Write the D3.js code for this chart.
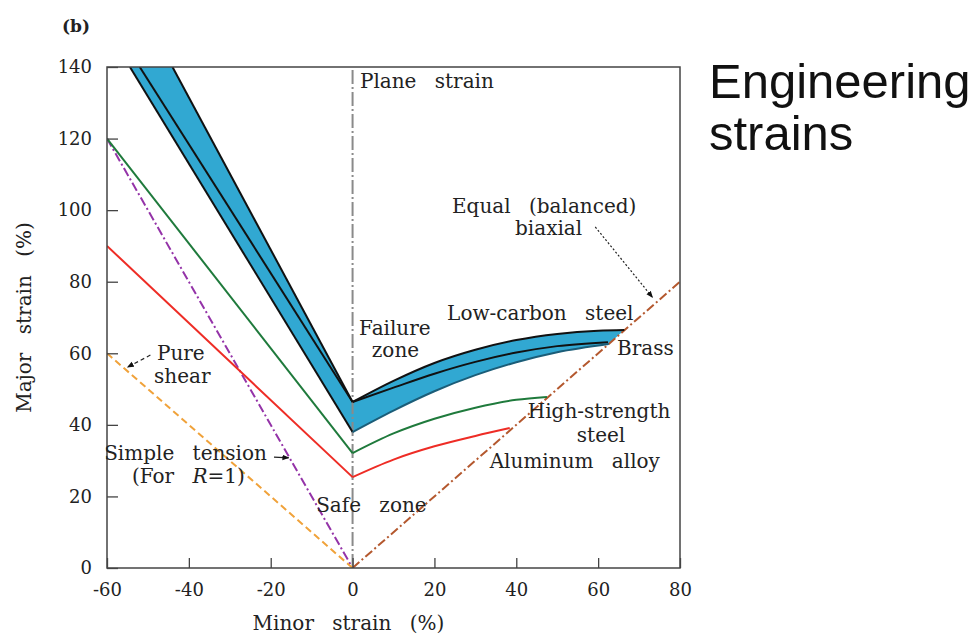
<!DOCTYPE html>
<meta charset="utf-8">
<style>
body { margin: 0; background: #fff; }
svg text { font-family: "DejaVu Serif", serif; fill: #222; }
.axis path { display: none; }
.axis line { stroke: #444; stroke-width: 1.3; }
.axis text { font-size: 18px; font-family: "DejaVu Serif", serif; fill: #222; }
.note { font-size: 20px; word-spacing: 12px; }
.curve { fill: none; stroke-width: 2; }
</style>
<body>
<script src="https://d3js.org/d3.v7.min.js"></script>
<script>

// values: [minor strain %, major strain %]
var xTicks = [-60, -40, -20, 0, 20, 40, 60, 80];
var yTicks = [0, 20, 40, 60, 80, 100, 120, 140];

var simpleTension = [[-60, 120], [0, 0]];
var pureShear = [[-60, 60], [0, 0]];
var equalBiaxial = [[0, 0], [80, 80]];
var planeStrain = [[0, 0], [0, 140]];

var highStrengthLeft = [[-60, 120], [0, 32.1]];
var highStrengthRight = [[0, 32.1], [10, 37.6], [20, 41.7], [30, 44.8], [40, 47], [47.5, 47.8]];
var aluminumLeft = [[-60, 90], [0, 25.4]];
var aluminumRight = [[0, 25.4], [10, 30.3], [20, 34], [30, 36.9], [38.4, 39.1]];

// failure band: low-carbon steel (upper), brass (middle), lower edge
var steelLeft = [[-44, 140], [0, 46.4]];
var steelRight = [[0, 46.4], [10, 52.3], [20, 57.3], [30, 61], [40, 63.7], [50, 65.4], [60, 66.3], [66.4, 66.5]];
var brassLeft = [[-52, 140], [0, 46.4]];
var brassRight = [[0, 46.4], [10, 50.4], [20, 54.3], [30, 57.6], [40, 60.2], [50, 62], [62.4, 63.1]];
var lowerLeft = [[-54.4, 140], [0, 38]];
var lowerRight = [[0, 38], [10, 44], [20, 49.4], [30, 53.9], [40, 57.5], [50, 60.3], [62.6, 62.6]];

var labels = [
  {t: "Plane strain", x: 1.8, y: 134.1},
  {t: "Equal (balanced)", x: 24.3, y: 99.2},
  {t: "biaxial", x: 39.7, y: 93.0},
  {t: "Failure", x: 1.6, y: 65.1},
  {t: "zone", x: 4.7, y: 58.9},
  {t: "Low-carbon steel", x: 23.1, y: 69.3},
  {t: "Brass", x: 64.6, y: 59.5},
  {t: "High-strength", x: 42.8, y: 41.9},
  {t: "steel", x: 54.8, y: 35.2},
  {t: "Aluminum alloy", x: 33.5, y: 27.9},
  {t: "Safe zone", x: -8.9, y: 15.6},
  {t: "Pure", x: -47.8, y: 58.1},
  {t: "shear", x: -48.5, y: 51.7},
  {t: "Simple tension", x: -60.7, y: 30.2}
];

var arrows = [
  {from: [-49.4, 59.5], to: [-55, 56.1], dash: "4,3"},
  {from: [-19.2, 31], to: [-15.6, 30.8], dash: null},
  {from: [59.3, 95.3], to: [73.3, 75.6], dash: "2,2"}
];

var margin = {top: 67, right: 296, bottom: 69, left: 107},
    width = 976 - margin.left - margin.right,
    height = 637 - margin.top - margin.bottom;

var x = d3.scaleLinear().domain([-60, 80]).range([0, width]);
var y = d3.scaleLinear().domain([0, 140]).range([height, 0]);

var svg = d3.select("body").append("svg")
    .attr("width", 976)
    .attr("height", 637);

svg.append("defs").append("marker")
    .attr("id", "head")
    .attr("viewBox", "0 0 10 10")
    .attr("refX", 9).attr("refY", 5)
    .attr("markerWidth", 7).attr("markerHeight", 7)
    .attr("markerUnits", "userSpaceOnUse")
    .attr("orient", "auto")
  .append("path")
    .attr("d", "M0,1L10,5L0,9z")
    .attr("fill", "#111");

svg.select("defs").append("clipPath")
    .attr("id", "plot")
  .append("rect")
    .attr("width", width).attr("height", height);

var g = svg.append("g")
    .attr("transform", "translate(" + margin.left + "," + margin.top + ")");

var straight = d3.line().x(function(d) { return x(d[0]); }).y(function(d) { return y(d[1]); });
var smooth = d3.line().x(function(d) { return x(d[0]); }).y(function(d) { return y(d[1]); })
    .curve(d3.curveMonotoneX);

// blue failure band
var band = straight(lowerLeft)
    + smooth(lowerRight).replace(/^M/, "L")
    + smooth(steelRight.slice().reverse()).replace(/^M/, "L")
    + straight(steelLeft.slice().reverse()).replace(/^M/, "L") + "Z";

var plot = g.append("g").attr("clip-path", "url(#plot)");

plot.append("path")
    .attr("d", band)
    .attr("fill", "#31a8d2");

plot.append("path").attr("class", "curve").attr("d", straight(planeStrain))
    .attr("stroke", "#8a8a8a").attr("stroke-width", 1.3).attr("stroke-dasharray", "14,3,2,3");
plot.append("path").attr("class", "curve").attr("d", straight(simpleTension))
    .attr("stroke", "#9433a8").attr("stroke-width", 1.6).attr("stroke-dasharray", "9,3,2,3");
plot.append("path").attr("class", "curve").attr("d", straight(pureShear))
    .attr("stroke", "#f0a23a").attr("stroke-width", 1.6).attr("stroke-dasharray", "7,4");
plot.append("path").attr("class", "curve").attr("d", straight(equalBiaxial))
    .attr("stroke", "#b4582e").attr("stroke-width", 1.6).attr("stroke-dasharray", "9,3,2,3");

plot.append("path").attr("class", "curve").attr("d", straight(highStrengthLeft)).attr("stroke", "#1f7a3c");
plot.append("path").attr("class", "curve").attr("d", smooth(highStrengthRight)).attr("stroke", "#1f7a3c");
plot.append("path").attr("class", "curve").attr("d", straight(aluminumLeft)).attr("stroke", "#ee2c25");
plot.append("path").attr("class", "curve").attr("d", smooth(aluminumRight)).attr("stroke", "#ee2c25");

[steelLeft, brassLeft, lowerLeft].forEach(function(p) {
  plot.append("path").attr("class", "curve").attr("d", straight(p)).attr("stroke", "#111").attr("stroke-width", 1.8);
});
[steelRight, brassRight].forEach(function(p) {
  plot.append("path").attr("class", "curve").attr("d", smooth(p)).attr("stroke", "#111").attr("stroke-width", 1.8);
});
plot.append("path").attr("class", "curve").attr("d", smooth(lowerRight)).attr("stroke", "#1b5d78").attr("stroke-width", 0.8);

// frame and axes
g.append("rect")
    .attr("width", width).attr("height", height)
    .attr("fill", "none").attr("stroke", "#444").attr("stroke-width", 1.5);

g.append("g")
    .attr("class", "axis")
    .attr("transform", "translate(0," + height + ")")
    .call(d3.axisBottom(x).tickValues(xTicks).tickSize(-10).tickPadding(15)
      .tickFormat(function(d) { return String(d); }));

g.append("g")
    .attr("class", "axis")
    .call(d3.axisLeft(y).tickValues(yTicks).tickSize(-11).tickPadding(15)
      .tickFormat(function(d) { return String(d); }));

g.selectAll(".axis text").attr("fill", "#222");

// annotations
g.selectAll(".note")
    .data(labels)
  .enter().append("text")
    .attr("class", "note")
    .attr("x", function(d) { return x(d.x); })
    .attr("y", function(d) { return y(d.y); })
    .text(function(d) { return d.t; });

var rNote = g.append("text")
    .attr("class", "note")
    .attr("x", x(-53.9)).attr("y", y(23.7));
rNote.append("tspan").text("(For ");
rNote.append("tspan").attr("font-style", "italic").text("R");
rNote.append("tspan").attr("style", "word-spacing:0").text("=1)");

g.selectAll(".arrow")
    .data(arrows)
  .enter().append("line")
    .attr("class", "arrow")
    .attr("x1", function(d) { return x(d.from[0]); })
    .attr("y1", function(d) { return y(d.from[1]); })
    .attr("x2", function(d) { return x(d.to[0]); })
    .attr("y2", function(d) { return y(d.to[1]); })
    .attr("stroke", "#222").attr("stroke-width", 1.2)
    .attr("stroke-dasharray", function(d) { return d.dash; })
    .attr("marker-end", "url(#head)");

// axis titles
svg.append("text")
    .attr("class", "note")
    .attr("text-anchor", "middle")
    .attr("x", margin.left + x(-1))
    .attr("y", 630)
    .text("Minor strain (%)");

svg.append("text")
    .attr("class", "note")
    .attr("text-anchor", "middle")
    .attr("transform", "translate(31," + (margin.top + y(70)) + ")rotate(-90)")
    .text("Major strain (%)");

svg.append("text")
    .attr("x", 62).attr("y", 32)
    .attr("font-size", 17).attr("font-weight", "bold")
    .text("(b)");

svg.append("text")
    .attr("x", 709).attr("y", 98)
    .style("font-family", "'Liberation Sans', Arial, sans-serif")
    .style("font-size", "49px").style("fill", "#111")
    .text("Engineering");

svg.append("text")
    .attr("x", 709).attr("y", 150)
    .style("font-family", "'Liberation Sans', Arial, sans-serif")
    .style("font-size", "49px").style("fill", "#111")
    .text("strains");

</script>
